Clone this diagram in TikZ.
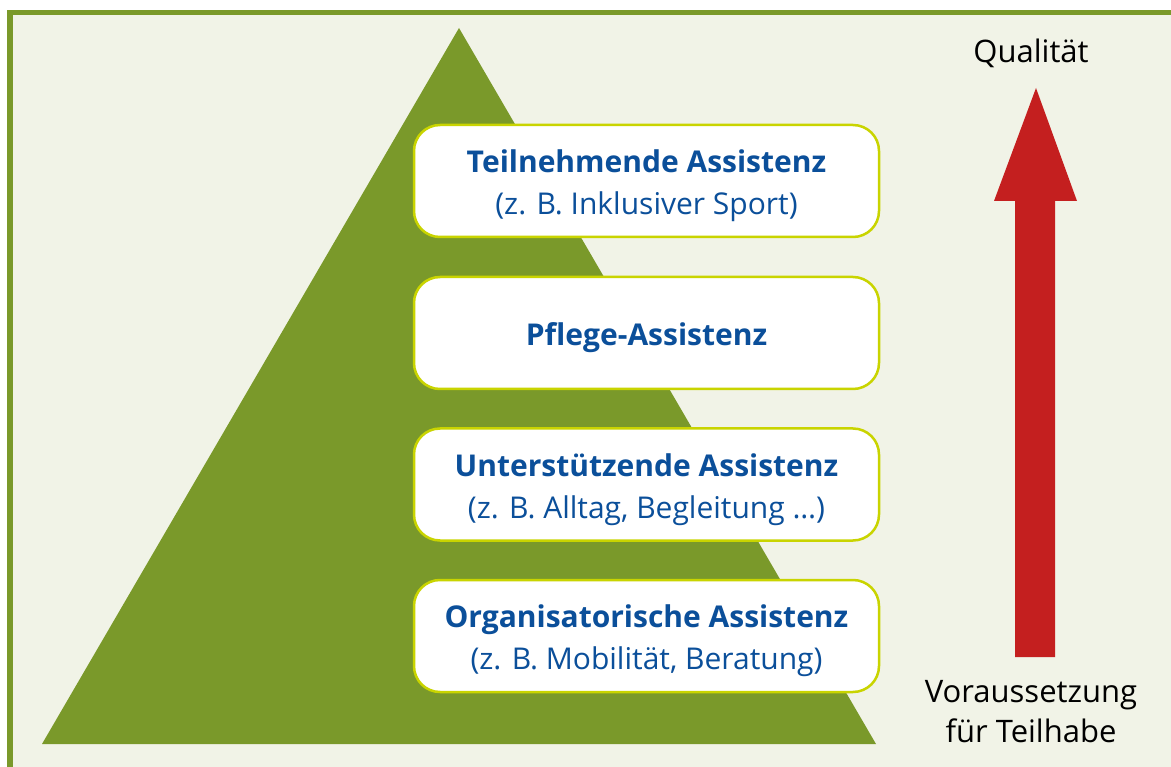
\documentclass[tikz,border=0pt]{standalone}
\usepackage{fontspec}
\setmainfont{Open Sans}
\definecolor{rahmengruen}{RGB}{122,153,42}
\definecolor{grund}{RGB}{241,243,231}
\definecolor{kante}{RGB}{201,212,0}
\definecolor{schrift}{RGB}{11,79,154}
\definecolor{pfeilrot}{RGB}{196,31,31}
\tikzset{
  stufe/.style={rectangle, rounded corners=26pt, draw=kante, line width=2.5pt, fill=white,
    minimum width=465pt, minimum height=112pt},
  stufetext/.style={align=center, text=schrift, yshift=-5pt,
    font=\fontsize{30}{42}\selectfont},
  seite/.style={align=center, text=black, font=\fontsize{31}{40}\selectfont}
}
\begin{document}
\begin{tikzpicture}[x=1pt, y=-1pt]
\useasboundingbox (0,0) rectangle (1171,767);
\fill[white] (0,0) rectangle (1171,767);
\fill[grund] (7,10) rectangle (1171,767);
\fill[rahmengruen] (7,10) rectangle (1171,15);
\fill[rahmengruen] (7,10) rectangle (13,767);

% pyramid
\fill[rahmengruen] (459,28) -- (876,744) -- (42,744) -- cycle;

\node (teil) at (646.5, 181) [stufe] {};
\node (pflege) at (646.5, 333) [stufe] {};
\node (unter) at (646.5, 484.5) [stufe] {};
\node (orga) at (646.5, 636) [stufe] {};

\node (teiltext) at (teil) [stufetext] {\textbf{Teilnehmende Assistenz}\\(z. B. Inklusiver Sport)};
\node (pflegetext) at (pflege) [stufetext] {\textbf{Pflege-Assistenz}};
\node (untertext) at (unter) [stufetext] {\textbf{Unterstützende Assistenz}\\(z. B. Alltag, Begleitung …)};
\node (orgatext) at (orga) [stufetext] {\textbf{Organisatorische Assistenz}\\(z. B. Mobilität, Beratung)};

% arrow
\fill[pfeilrot] (1036,88) -- (1077,201) -- (1055,201) -- (1055,657) -- (1015,657) -- (1015,201) -- (994,201) -- cycle;
\node (quali) at (1031, 53) [seite] {Qualität};
\node (voraus) at (1031, 712) [seite] {Voraussetzung\\für Teilhabe};
\end{tikzpicture}
\end{document}
